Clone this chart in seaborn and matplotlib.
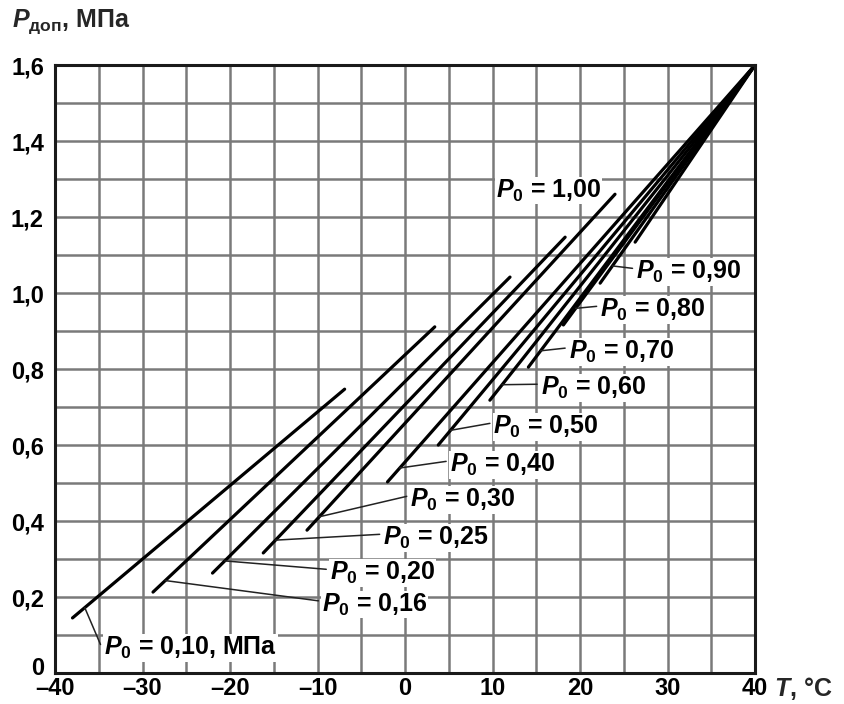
import numpy as np
import pandas as pd
import matplotlib
matplotlib.use("Agg")
import matplotlib.pyplot as plt
import matplotlib.transforms as mtransforms
import seaborn as sns

# P0 values (MPa) and the segment end points
p0_labels = ["0,10", "0,16", "0,20", "0,25", "0,30", "0,40",
             "0,50", "0,60", "0,70", "0,80", "0,90", "1,00"]
start_T = [-38.0, -28.8, -22.0, -16.2, -11.2, -2.0, 3.8, 9.7, 14.1, 18.1, 22.3, 26.3]
start_P = [0.145, 0.213, 0.263, 0.316, 0.376, 0.503, 0.600, 0.718, 0.805, 0.916, 1.026, 1.134]
end_T = [-6.9, 3.4, 12.0, 18.3, 24.0, 40.0, 40.0, 40.0, 40.0, 40.0, 40.0, 40.0]
end_P = [0.747, 0.911, 1.042, 1.147, 1.260, 1.6, 1.6, 1.6, 1.6, 1.6, 1.6, 1.6]

# label text positions (T, P) and whether a leader line is drawn
label_T = [-34.4, -9.5, -8.6, -2.5, 0.6, 5.1, 10.1, 15.5, 18.7, 22.3, 26.4, 10.4]
label_P = [0.065, 0.18, 0.263, 0.355, 0.455, 0.547, 0.647, 0.75, 0.845, 0.955, 1.055, 1.27]
has_leader = [True] * 11 + [False]

x_ticks = list(range(-40, 41, 10))
y_ticks = [0, 0.2, 0.4, 0.6, 0.8, 1.0, 1.2, 1.4, 1.6]
y_tick_labels = ["0", "0,2", "0,4", "0,6", "0,8", "1,0", "1,2", "1,4", "1,6"]

rows = []
for lab, t0, p0, t1, p1 in zip(p0_labels, start_T, start_P, end_T, end_P):
    rows.append({"P0": lab, "T": t0, "P": p0})
    rows.append({"P0": lab, "T": t1, "P": p1})
df = pd.DataFrame(rows)

sns.set_theme(style="white")
plt.rcParams["font.family"] = ["Liberation Sans", "DejaVu Sans"]
plt.rcParams["font.weight"] = "bold"
plt.rcParams["mathtext.fontset"] = "custom"
plt.rcParams["mathtext.it"] = "Liberation Sans:italic:bold"
plt.rcParams["mathtext.rm"] = "Liberation Sans:bold"
plt.rcParams["mathtext.bf"] = "Liberation Sans:bold"

fig = plt.figure(figsize=(8.45, 7.04), dpi=100)
ax = fig.add_axes([0.0651, 0.044, 0.8284, 0.8636])

sns.lineplot(data=df, x="T", y="P", units="P0", estimator=None, sort=False,
             color="black", linewidth=2.3, ax=ax, legend=False)

# leaders and labels
for i, lab in enumerate(p0_labels):
    txt = r"$P_0$ = " + lab + (", МПа" if i == 0 else "")
    ax.text(label_T[i], label_P[i], txt, fontsize=18, ha="left", va="center",
            color="black", zorder=5,
            bbox=dict(facecolor="white", edgecolor="none", pad=0.5))
    if has_leader[i]:
        frac = 1.4 / (end_T[i] - start_T[i])
        lx = start_T[i] + frac * (end_T[i] - start_T[i])
        ly = start_P[i] + frac * (end_P[i] - start_P[i])
        ax.plot([lx, label_T[i] - 0.4], [ly, label_P[i] + 0.01],
                color="#222222", linewidth=1.1, zorder=4)

ax.set_xlim(-40, 40)
ax.set_ylim(0, 1.6)
ax.set_xticks(np.arange(-40, 41, 5))
ax.set_xticklabels([("\u2013" + str(-v) if v < 0 else str(v)) if v in x_ticks else ""
                    for v in range(-40, 41, 5)])
ax.set_yticks(np.round(np.arange(0, 1.61, 0.1), 1))
ax.set_yticklabels([y_tick_labels[y_ticks.index(v)] if v in y_ticks else ""
                    for v in np.round(np.arange(0, 1.61, 0.1), 1)])
ax.tick_params(axis="both", length=0, labelsize=17, colors="black")
ax.tick_params(axis="y", pad=8)
ax.tick_params(axis="x", pad=3)
# the "0" label sits a little higher in the reference
ax.get_yticklabels()[0].set_transform(
    ax.get_yticklabels()[0].get_transform()
    + mtransforms.ScaledTranslation(0, 7 / 100, fig.dpi_scale_trans))
ax.grid(True, color="#7a7a7a", linewidth=1.8, zorder=0)
ax.set_axisbelow(True)
ax.set_xlabel("")
ax.set_ylabel("")
for side, sp in ax.spines.items():
    sp.set_color("#1a1a1a")
    sp.set_linewidth(2.2)
    sp.set_visible(True)

fig.text(12 / 845, 1 - 22 / 704, r"$P_{\mathrm{доп}}$, МПа", fontsize=18,
         ha="left", va="center")
fig.text(774 / 845, 1 - 688 / 704, r"$T$, °C", fontsize=18, ha="left", va="center")

fig.savefig("out.png", dpi=100)
